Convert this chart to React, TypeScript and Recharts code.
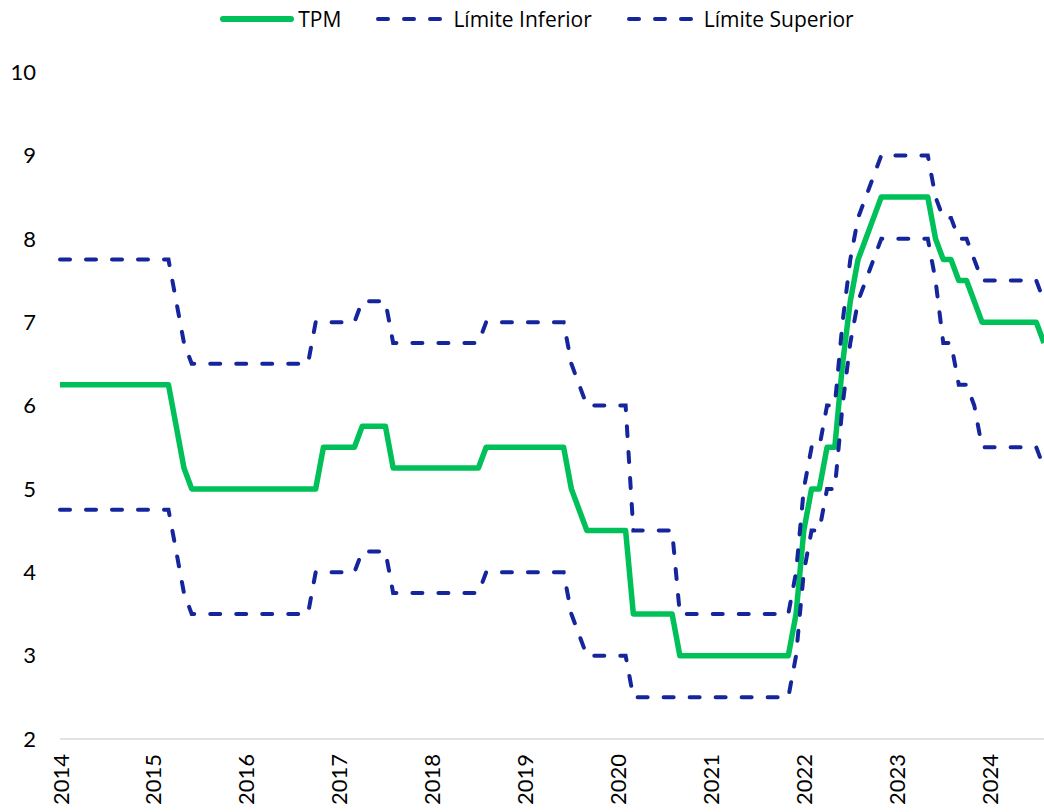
import { LineChart, Line, XAxis, YAxis, Legend } from "recharts";

const GREEN = "#00C159";
const NAVY = "#15259B";

const years = ["2014", "2015", "2016", "2017", "2018", "2019", "2020", "2021", "2022", "2023", "2024"];
const monthNums = ["01", "02", "03", "04", "05", "06", "07", "08", "09", "10", "11", "12"];
// monthly categories, Jan 2014 .. Aug 2024
const months = years.flatMap((y) => monthNums.map((m) => `${y}-${m}`)).slice(0, 128);
const yearTicks = years.map((y) => `${y}-01`);
const yTicks = [2, 3, 4, 5, 6, 7, 8, 9, 10];

// one row per year (12 months)
const tpm = [
  6.25, 6.25, 6.25, 6.25, 6.25, 6.25, 6.25, 6.25, 6.25, 6.25, 6.25, 6.25,
  6.25, 6.25, 6.25, 5.75, 5.25, 5.0, 5.0, 5.0, 5.0, 5.0, 5.0, 5.0,
  5.0, 5.0, 5.0, 5.0, 5.0, 5.0, 5.0, 5.0, 5.0, 5.0, 5.5, 5.5,
  5.5, 5.5, 5.5, 5.75, 5.75, 5.75, 5.75, 5.25, 5.25, 5.25, 5.25, 5.25,
  5.25, 5.25, 5.25, 5.25, 5.25, 5.25, 5.25, 5.5, 5.5, 5.5, 5.5, 5.5,
  5.5, 5.5, 5.5, 5.5, 5.5, 5.5, 5.0, 4.75, 4.5, 4.5, 4.5, 4.5,
  4.5, 4.5, 3.5, 3.5, 3.5, 3.5, 3.5, 3.5, 3.0, 3.0, 3.0, 3.0,
  3.0, 3.0, 3.0, 3.0, 3.0, 3.0, 3.0, 3.0, 3.0, 3.0, 3.0, 3.5,
  4.5, 5.0, 5.0, 5.5, 5.5, 6.5, 7.25, 7.75, 8.0, 8.25, 8.5, 8.5,
  8.5, 8.5, 8.5, 8.5, 8.5, 8.0, 7.75, 7.75, 7.5, 7.5, 7.25, 7.0,
  7.0, 7.0, 7.0, 7.0, 7.0, 7.0, 7.0, 6.75,
];

const limInf = [
  4.75, 4.75, 4.75, 4.75, 4.75, 4.75, 4.75, 4.75, 4.75, 4.75, 4.75, 4.75,
  4.75, 4.75, 4.75, 4.25, 3.75, 3.5, 3.5, 3.5, 3.5, 3.5, 3.5, 3.5,
  3.5, 3.5, 3.5, 3.5, 3.5, 3.5, 3.5, 3.5, 3.5, 4.0, 4.0, 4.0,
  4.0, 4.0, 4.0, 4.25, 4.25, 4.25, 4.25, 3.75, 3.75, 3.75, 3.75, 3.75,
  3.75, 3.75, 3.75, 3.75, 3.75, 3.75, 3.75, 4.0, 4.0, 4.0, 4.0, 4.0,
  4.0, 4.0, 4.0, 4.0, 4.0, 4.0, 3.5, 3.25, 3.0, 3.0, 3.0, 3.0,
  3.0, 3.0, 2.5, 2.5, 2.5, 2.5, 2.5, 2.5, 2.5, 2.5, 2.5, 2.5,
  2.5, 2.5, 2.5, 2.5, 2.5, 2.5, 2.5, 2.5, 2.5, 2.5, 2.5, 3.0,
  4.0, 4.5, 4.5, 5.0, 5.0, 6.0, 6.75, 7.25, 7.5, 7.75, 8.0, 8.0,
  8.0, 8.0, 8.0, 8.0, 8.0, 7.5, 6.75, 6.75, 6.25, 6.25, 6.0, 5.5,
  5.5, 5.5, 5.5, 5.5, 5.5, 5.5, 5.5, 5.25,
];

const limSup = [
  7.75, 7.75, 7.75, 7.75, 7.75, 7.75, 7.75, 7.75, 7.75, 7.75, 7.75, 7.75,
  7.75, 7.75, 7.75, 7.25, 6.75, 6.5, 6.5, 6.5, 6.5, 6.5, 6.5, 6.5,
  6.5, 6.5, 6.5, 6.5, 6.5, 6.5, 6.5, 6.5, 6.5, 7.0, 7.0, 7.0,
  7.0, 7.0, 7.0, 7.25, 7.25, 7.25, 7.25, 6.75, 6.75, 6.75, 6.75, 6.75,
  6.75, 6.75, 6.75, 6.75, 6.75, 6.75, 6.75, 7.0, 7.0, 7.0, 7.0, 7.0,
  7.0, 7.0, 7.0, 7.0, 7.0, 7.0, 6.5, 6.25, 6.0, 6.0, 6.0, 6.0,
  6.0, 6.0, 4.5, 4.5, 4.5, 4.5, 4.5, 4.5, 3.5, 3.5, 3.5, 3.5,
  3.5, 3.5, 3.5, 3.5, 3.5, 3.5, 3.5, 3.5, 3.5, 3.5, 3.5, 4.0,
  5.0, 5.5, 5.5, 6.0, 6.0, 7.0, 7.75, 8.25, 8.5, 8.75, 9.0, 9.0,
  9.0, 9.0, 9.0, 9.0, 9.0, 8.5, 8.25, 8.25, 8.0, 8.0, 7.75, 7.5,
  7.5, 7.5, 7.5, 7.5, 7.5, 7.5, 7.5, 7.25,
];

const data = months.map((m, i) => ({
  month: m,
  tpm: tpm[i],
  inf: limInf[i],
  sup: limSup[i],
}));

const legendItems = [
  { label: "TPM", color: GREEN, width: 6, dash: undefined as string | undefined },
  { label: "Límite Inferior", color: NAVY, width: 4, dash: "10 16" },
  { label: "Límite Superior", color: NAVY, width: 4, dash: "10 16" },
];

function ChartLegend() {
  return (
    <div
      style={{
        display: "flex",
        justifyContent: "center",
        alignItems: "center",
        gap: 34,
        paddingLeft: 30,
        fontFamily: "'Open Sans', sans-serif",
        fontSize: 21,
        color: "#000",
      }}
    >
      {legendItems.map((it) => (
        <div key={it.label} style={{ display: "flex", alignItems: "center", gap: 4 }}>
          <svg width={74} height={10}>
            <line
              x1={3}
              y1={5}
              x2={71}
              y2={5}
              stroke={it.color}
              strokeWidth={it.width}
              strokeDasharray={it.dash}
              strokeLinecap="round"
            />
          </svg>
          <span>{it.label}</span>
        </div>
      ))}
    </div>
  );
}

function YearTick({ x, y, payload }: any) {
  return (
    <text
      transform={`translate(${x},${y + 13}) rotate(-90)`}
      textAnchor="end"
      dominantBaseline="central"
      fontSize={22}
      fontFamily="Lato, sans-serif"
      fill="#000"
    >
      {String(payload.value).slice(0, 4)}
    </text>
  );
}

export default function App() {
  return (
    <div style={{ width: 1044, height: 812 }}>
      <style>{"body{margin:0}"}</style>
      <LineChart width={1044} height={812} data={data} margin={{ top: 32, right: 0, bottom: 0, left: 0 }}>
        <Legend
          verticalAlign="top"
          height={40}
          wrapperStyle={{ top: 5 }}
          content={() => <ChartLegend />}
        />
        <XAxis
          dataKey="month"
          ticks={yearTicks}
          interval={0}
          tick={<YearTick />}
          tickLine={false}
          tickSize={0}
          height={73}
          stroke="#d9d9d9"
          strokeWidth={1.5}
        />
        <YAxis
          domain={[2, 10]}
          ticks={yTicks}
          width={60}
          axisLine={false}
          tickLine={false}
          tickSize={0}
          tickMargin={24}
          tick={{ fontSize: 22, fill: "#000", fontFamily: "Lato, sans-serif" }}
        />
        <Line
          dataKey="tpm"
          name="TPM"
          stroke={GREEN}
          strokeWidth={5.5}
          dot={false}
          strokeLinejoin="round"
          isAnimationActive={false}
        />
        <Line
          dataKey="inf"
          name="Límite Inferior"
          stroke={NAVY}
          strokeWidth={4}
          strokeDasharray="10 16"
          strokeLinecap="round"
          dot={false}
          isAnimationActive={false}
        />
        <Line
          dataKey="sup"
          name="Límite Superior"
          stroke={NAVY}
          strokeWidth={4}
          strokeDasharray="10 16"
          strokeLinecap="round"
          dot={false}
          isAnimationActive={false}
        />
      </LineChart>
    </div>
  );
}
